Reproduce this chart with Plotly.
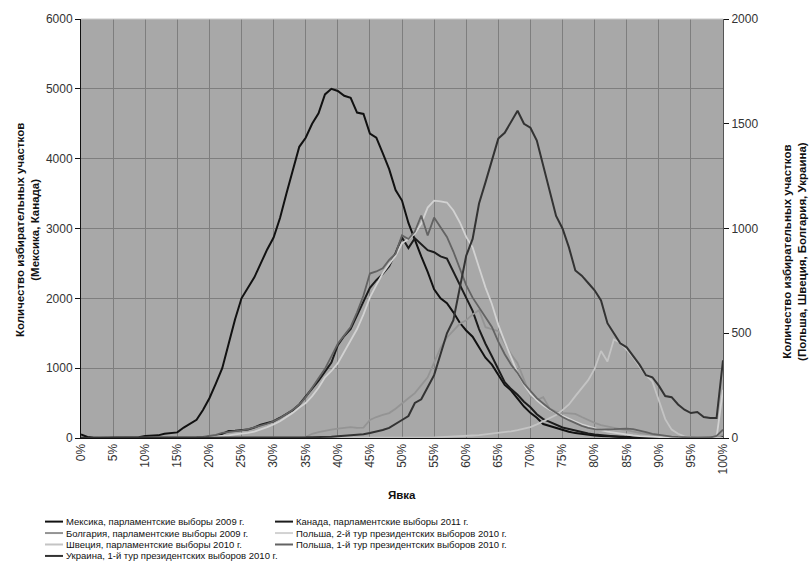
import plotly.graph_objects as go

# Turnout bins, 0%..100% in 1% steps
turnout = list(range(0, 101))
tick_pos = list(range(0, 101, 5))
tick_text = [f"{v}%" for v in tick_pos]

# Number of polling stations per turnout bin (left axis)
mexico_2009 = [
    50, 15, 5, 5, 5, 5, 5, 8, 10, 12,
    30, 35, 38, 60, 70, 80, 150, 200, 260, 400,
    570, 780, 1000, 1350, 1700, 2000, 2150, 2300, 2500, 2700,
    2870, 3150, 3500, 3850, 4170, 4300, 4500, 4650, 4920, 5000,
    4970, 4900, 4870, 4660, 4640, 4360, 4300, 4080, 3850, 3550,
    3400, 3080, 2830, 2600, 2380, 2130, 2000, 1930, 1800, 1650,
    1540, 1450, 1300, 1150, 1050, 900, 760, 680, 560, 450,
    360, 290, 200, 170, 140, 110, 90, 70, 55, 45,
    35, 30, 25, 20, 15, 12, 10, 8, 6, 5,
    4, 3, 3, 2, 2, 2, 1, 1, 1, 1,
    5,
]
canada_2011 = [
    5, 0, 0, 0, 0, 0, 0, 0, 0, 0,
    2, 2, 3, 3, 4, 5, 6, 8, 10, 15,
    20, 30, 60, 100, 105, 110, 120, 150, 190, 215,
    240, 290, 340, 400, 480, 590, 700, 820, 950, 1080,
    1330, 1460, 1560, 1750, 1950, 2150, 2260, 2350, 2460, 2650,
    2870, 2720, 2860, 2780, 2690, 2660, 2600, 2570, 2380, 2200,
    2000, 1820, 1560, 1350, 1170, 980, 800, 700, 620, 520,
    440, 340, 270, 230, 185, 150, 130, 105, 85, 65,
    50, 40, 30, 22, 16, 12, 9, 7, 5, 4,
    3, 2, 2, 2, 1, 1, 1, 1, 1, 1,
    10,
]

# Number of polling stations per turnout bin (right axis)
bulgaria_2009 = [
    0, 0, 0, 0, 0, 0, 0, 0, 0, 0,
    0, 0, 0, 0, 0, 0, 0, 0, 0, 0,
    0, 0, 0, 0, 0, 0, 0, 0, 0, 0,
    1, 1, 2, 2, 3, 5, 20, 28, 35, 40,
    45, 50, 52, 48, 50, 86, 100, 110, 119, 140,
    167, 190, 214, 250, 290, 360, 430, 480, 514, 545,
    562, 590, 610, 529, 520, 510, 450, 400, 357, 280,
    200, 181, 195, 140, 125, 120, 118, 115, 100, 85,
    72, 62, 55, 48, 42, 38, 30, 25, 20, 15,
    10, 7, 5, 4, 3, 2, 2, 1, 1, 1,
    15,
]
poland_2010_round2 = [
    0, 0, 0, 0, 0, 0, 0, 0, 0, 0,
    0, 0, 0, 0, 0, 0, 0, 0, 0, 0,
    5, 7, 10, 13, 17, 20, 24, 30, 40, 52,
    65, 80, 100, 120, 145, 167, 200, 240, 290, 320,
    357, 410, 467, 520, 590, 671, 730, 786, 830, 870,
    929, 950, 976, 1024, 1100, 1133, 1130, 1124, 1086, 1030,
    960, 910, 814, 719, 640, 540, 460, 380, 310, 255,
    210, 180, 155, 135, 120, 105, 90, 78, 65, 55,
    45, 38, 30, 25, 20, 15, 12, 9, 7, 5,
    4, 3, 3, 2, 2, 2, 2, 2, 2, 3,
    230,
]
sweden_2010 = [
    0, 0, 0, 0, 0, 0, 0, 0, 0, 0,
    0, 0, 0, 0, 0, 0, 0, 0, 0, 0,
    0, 0, 0, 0, 0, 0, 0, 0, 0, 0,
    0, 0, 0, 0, 0, 0, 0, 0, 0, 0,
    0, 0, 0, 0, 0, 0, 0, 0, 0, 0,
    1, 1, 2, 2, 3, 3, 4, 5, 6, 8,
    10, 12, 14, 17, 20, 25, 28, 32, 38, 45,
    52, 65, 80, 95, 110, 133, 160, 200, 240, 276,
    330, 415, 365, 470, 455, 420, 386, 340, 300, 270,
    185, 90, 40, 20, 8, 3, 2, 1, 1, 1,
    0,
]
poland_2010_round1 = [
    0, 0, 0, 0, 0, 0, 0, 0, 0, 0,
    0, 0, 0, 0, 0, 0, 0, 0, 0, 0,
    10, 15, 25, 28, 32, 36, 42, 50, 58, 68,
    80, 95, 115, 135, 160, 195, 240, 285, 330, 390,
    450, 490, 530, 600, 680, 785, 795, 810, 850, 880,
    967, 950, 985, 1062, 967, 1052, 1005, 960, 890, 810,
    730, 670, 625, 580, 530, 460, 400, 350, 310, 260,
    225, 190, 165, 140, 120, 100, 85, 70, 58, 48,
    42, 40, 40, 42, 44, 45, 42, 36, 28, 20,
    15, 10, 7, 5, 3, 2, 2, 2, 2, 10,
    40,
]
ukraine_2010 = [
    0, 0, 0, 0, 0, 0, 0, 0, 0, 0,
    0, 0, 0, 0, 0, 0, 0, 0, 0, 0,
    0, 0, 0, 0, 0, 0, 0, 0, 0, 0,
    1, 1, 1, 2, 2, 3, 4, 4, 5, 6,
    8, 10, 12, 15, 18, 24, 30, 38, 48, 65,
    86, 105, 167, 185, 240, 300, 400, 500, 562, 720,
    870, 950, 1119, 1220, 1330, 1429, 1457, 1510, 1562, 1500,
    1481, 1420, 1300, 1181, 1060, 1000, 910, 800, 775, 740,
    705, 657, 548, 500, 452, 433, 390, 350, 300, 290,
    250, 200, 195, 160, 135, 119, 124, 100, 95, 95,
    371,
]

series = [
    ("Мексика, парламентские выборы 2009 г.", mexico_2009, "y", "#111111", 2.0),
    ("Канада, парламентские выборы 2011 г.", canada_2011, "y", "#1c1c1c", 2.0),
    ("Болгария, парламентские выборы 2009 г.", bulgaria_2009, "y2", "#949494", 1.8),
    ("Польша, 2-й тур президентских выборов 2010 г.", poland_2010_round2, "y2", "#d2d2d2", 1.8),
    ("Швеция, парламентские выборы 2010 г.", sweden_2010, "y2", "#c4c4c4", 1.8),
    ("Польша, 1-й тур президентских выборов 2010 г.", poland_2010_round1, "y2", "#636363", 1.8),
    ("Украина, 1-й тур президентских выборов 2010 г.", ukraine_2010, "y2", "#333333", 2.0),
]

W, H = 809, 576
L, R, T, B = 81, 723, 17, 438  # plot area in pixels


def px_x(p):
    return (p - L) / (R - L)


def px_y(p):
    return (B - p) / (B - T)


fig = go.Figure()
for name, vals, yax, color, width in series:
    fig.add_trace(go.Scatter(
        x=turnout, y=vals, name=name, mode="lines", yaxis=yax,
        line=dict(color=color, width=width), showlegend=False,
    ))

font_main = "Liberation Sans, Arial, sans-serif"
font_narrow = "Liberation Sans Narrow, Arial Narrow, Liberation Sans, Arial, sans-serif"

# Legend: two columns, filled row by row
annotations = []
shapes = []
for i, (name, vals, yax, color, width) in enumerate(series):
    row, col = divmod(i, 2)
    x0 = 45 if col == 0 else 275
    yy = 522 + row * 11.5
    shapes.append(dict(type="line", xref="paper", yref="paper",
                       x0=px_x(x0), x1=px_x(x0 + 18), y0=px_y(yy), y1=px_y(yy),
                       line=dict(color=color, width=2)))
    annotations.append(dict(text=name, xref="paper", yref="paper",
                            x=px_x(x0 + 19), y=px_y(yy), xanchor="left", yanchor="middle",
                            showarrow=False, font=dict(family=font_narrow, size=9.5, color="#111")))

# Axis titles
annotations.append(dict(text="<b>Количество избирательных участков<br>(Мексика, Канада)</b>",
                        xref="paper", yref="paper", x=px_x(28), y=px_y(229),
                        xanchor="center", yanchor="middle", textangle=-90, showarrow=False,
                        font=dict(family=font_main, size=11.5, color="#111")))
annotations.append(dict(text="<b>Количество избирательных участков<br>(Польша, Швеция, Болгария, Украина)</b>",
                        xref="paper", yref="paper", x=px_x(795), y=px_y(251),
                        xanchor="center", yanchor="middle", textangle=-90, showarrow=False,
                        font=dict(family=font_main, size=11.5, color="#111")))
annotations.append(dict(text="<b>Явка</b>", xref="paper", yref="paper",
                        x=px_x(402), y=px_y(495), xanchor="center", yanchor="middle",
                        showarrow=False, font=dict(family=font_main, size=11.5, color="#111")))

# thin top border of the plot area
shapes.append(dict(type="line", xref="paper", yref="paper", x0=0, x1=1, y0=1, y1=1,
                   line=dict(color="#c8c8c8", width=1)))

fig.update_layout(
    width=W, height=H,
    margin=dict(l=L, r=W - R, t=T, b=H - B),
    paper_bgcolor="white",
    plot_bgcolor="#a8a8a8",
    showlegend=False,
    font=dict(family=font_main, size=12, color="#222"),
    xaxis=dict(
        range=[0, 100], tickmode="array", tickvals=tick_pos, ticktext=tick_text,
        tickangle=-90, showgrid=True, gridcolor="#7e7e7e", gridwidth=1,
        showline=True, linecolor="#111", linewidth=1, ticks="", zeroline=False,
        tickfont=dict(size=12, color="#333"),
    ),
    yaxis=dict(
        range=[0, 6000], dtick=1000, showgrid=True, gridcolor="#7e7e7e", gridwidth=1,
        showline=True, linecolor="#111", linewidth=1, ticks="outside", ticklen=5,
        tickcolor="#111", zeroline=False, tickfont=dict(size=12, color="#333"),
    ),
    yaxis2=dict(
        range=[0, 2000], dtick=500, overlaying="y", side="right", showgrid=False,
        showline=True, linecolor="#555", linewidth=1, ticks="outside", ticklen=5,
        tickcolor="#111", zeroline=False, tickfont=dict(size=12, color="#333"),
    ),
    annotations=annotations,
    shapes=shapes,
)

fig.write_html("out.html")
